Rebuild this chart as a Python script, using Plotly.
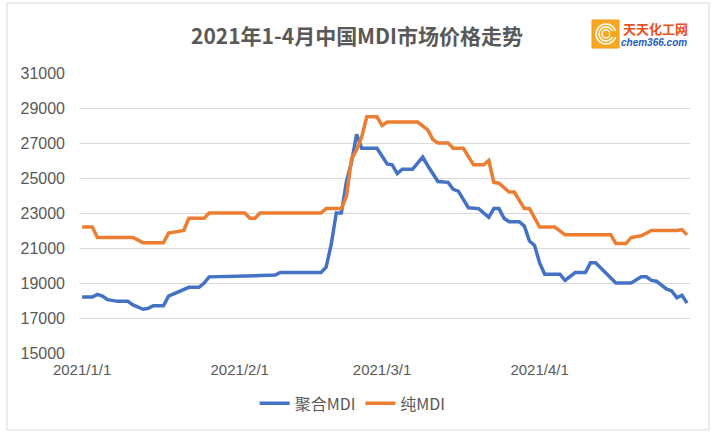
import plotly.graph_objects as go

# 聚合MDI (polymeric MDI) – vertices
poly_dates = ["2021-01-01", "2021-01-03", "2021-01-04", "2021-01-05", "2021-01-06", "2021-01-08",
              "2021-01-10", "2021-01-11", "2021-01-13", "2021-01-14", "2021-01-15", "2021-01-17",
              "2021-01-18", "2021-01-20", "2021-01-22", "2021-01-24", "2021-01-25", "2021-01-26",
              "2021-02-01", "2021-02-08", "2021-02-09", "2021-02-17", "2021-02-18", "2021-02-19",
              "2021-02-20", "2021-02-21", "2021-02-22", "2021-02-23", "2021-02-24", "2021-02-25",
              "2021-02-28", "2021-03-02", "2021-03-03", "2021-03-04", "2021-03-05", "2021-03-07",
              "2021-03-09", "2021-03-10", "2021-03-12", "2021-03-14", "2021-03-15", "2021-03-16",
              "2021-03-18", "2021-03-20", "2021-03-22", "2021-03-23", "2021-03-24", "2021-03-25",
              "2021-03-26", "2021-03-28", "2021-03-29", "2021-03-30", "2021-03-31", "2021-04-01",
              "2021-04-02", "2021-04-05", "2021-04-06", "2021-04-07", "2021-04-08", "2021-04-10",
              "2021-04-11", "2021-04-12", "2021-04-16", "2021-04-19", "2021-04-21", "2021-04-22",
              "2021-04-23", "2021-04-24", "2021-04-26", "2021-04-27", "2021-04-28", "2021-04-29",
              "2021-04-30"]
poly_values = [18200, 18200, 18350, 18250, 18050, 17950,
               17950, 17750, 17500, 17550, 17700, 17700,
               18250, 18500, 18750, 18750, 19000, 19350,
               19400, 19450, 19600, 19600, 19900, 21200,
               23000, 23000, 24800, 25900, 27500, 26700,
               26700, 25800, 25750, 25250, 25500, 25500,
               26200, 25700, 24800, 24750, 24350, 24250,
               23300, 23250, 22750, 23250, 23250, 22700,
               22500, 22500, 22250, 21400, 21150, 20150,
               19500, 19500, 19150, 19400, 19600, 19600,
               20150, 20150, 19000, 19000, 19350, 19350,
               19150, 19100, 18650, 18550, 18150, 18300,
               17850]

# 纯MDI (pure MDI)
pure_dates = ["2021-01-01", "2021-01-03", "2021-01-04", "2021-01-11", "2021-01-12", "2021-01-13",
              "2021-01-17", "2021-01-18", "2021-01-20", "2021-01-21", "2021-01-22", "2021-01-25",
              "2021-01-26", "2021-02-02", "2021-02-03", "2021-02-04", "2021-02-05", "2021-02-17",
              "2021-02-18", "2021-02-21", "2021-02-22", "2021-02-23", "2021-02-24", "2021-02-25",
              "2021-02-26", "2021-02-28", "2021-03-01", "2021-03-02", "2021-03-08", "2021-03-10",
              "2021-03-11", "2021-03-12", "2021-03-14", "2021-03-15", "2021-03-17", "2021-03-19",
              "2021-03-21", "2021-03-22", "2021-03-23", "2021-03-24", "2021-03-26", "2021-03-27",
              "2021-03-29", "2021-03-30", "2021-04-01", "2021-04-04", "2021-04-06", "2021-04-15",
              "2021-04-16", "2021-04-18", "2021-04-19", "2021-04-21", "2021-04-23", "2021-04-28",
              "2021-04-29", "2021-04-30"]
pure_values = [22200, 22200, 21600, 21600, 21450, 21300,
               21300, 21850, 21950, 22000, 22700, 22700,
               23000, 23000, 22700, 22700, 23000, 23000,
               23250, 23250, 23950, 26100, 26600, 27350,
               28500, 28500, 28000, 28200, 28200, 27750,
               27200, 27000, 27000, 26700, 26700, 25750,
               25750, 26000, 24750, 24700, 24200, 24200,
               23250, 23250, 22200, 22200, 21750, 21750,
               21250, 21250, 21600, 21700, 22000, 22000,
               22050, 21750]

series_names = ["聚合MDI", "纯MDI"]
series_colors = ["#4472C4", "#ED7D31"]

tick_dates = ["2021-01-01", "2021-02-01", "2021-03-01", "2021-04-01"]
tick_labels = ["2021/1/1", "2021/2/1", "2021/3/1", "2021/4/1"]
y_ticks = [15000, 17000, 19000, 21000, 23000, 25000, 27000, 29000, 31000]
y_tick_labels = [str(v) for v in y_ticks]

title_text = "2021年1-4月中国MDI市场价格走势"

# plot-area geometry in pixels (used only to place decorations)
PL, PR, PT, PB = 80, 690, 73, 353


def px(x):
    return (x - PL) / (PR - PL)


def py(y):
    return (PB - y) / (PB - PT)


fig = go.Figure()
fig.add_trace(go.Scatter(x=poly_dates, y=poly_values, mode="lines", name=series_names[0],
                         line=dict(color=series_colors[0], width=3.5)))
fig.add_trace(go.Scatter(x=pure_dates, y=pure_values, mode="lines", name=series_names[1],
                         line=dict(color=series_colors[1], width=3.5)))

fig.update_layout(
    width=716, height=433,
    margin=dict(l=PL, r=716 - PR, t=PT, b=433 - PB, autoexpand=False),
    paper_bgcolor="white", plot_bgcolor="white",
    title=dict(text="<b>" + title_text + "</b>", x=357 / 716, xref="container", xanchor="center",
               y=1 - 37 / 433, yref="container", yanchor="middle",
               font=dict(family="Noto Sans CJK SC", size=21, color="#595959")),
    xaxis=dict(type="date", range=["2020-12-31 14:00", "2021-04-30 14:00"],
               tickvals=tick_dates, ticktext=tick_labels, showgrid=False, zeroline=False,
               showline=False, ticks="", automargin=False, ticklabelstandoff=6,
               tickfont=dict(family="Liberation Sans", size=15, color="#595959")),
    yaxis=dict(range=[15000, 31000], tickvals=y_ticks, ticktext=y_tick_labels,
               showgrid=True, gridcolor="#D9D9D9",
               gridwidth=1, zeroline=False, showline=False, ticks="", ticklabelstandoff=14,
               automargin=False,
               tickfont=dict(family="Liberation Sans", size=16, color="#595959")),
    legend=dict(orientation="h", x=0.447, xanchor="center", y=-0.18, yanchor="middle",
                font=dict(family="Noto Sans CJK SC", size=16, color="#595959"),
                bgcolor="rgba(0,0,0,0)"),
    showlegend=True,
)

# chart border
fig.add_shape(type="rect", xref="paper", yref="paper", x0=px(7), x1=px(709),
              y0=py(430), y1=py(3), line=dict(color="#D9D9D9", width=1), layer="below")

# logo (天天化工网)
fig.add_shape(type="rect", xref="paper", yref="paper",
              x0=px(592), x1=px(619), y0=py(48), y1=py(20),
              fillcolor="#F7A823", line=dict(color="#F29A1A", width=1))
for r in [10, 7, 4]:
    cx, cy = 606, 34
    fig.add_shape(type="circle", xref="paper", yref="paper",
                  x0=px(cx - r), x1=px(cx + r), y0=py(cy + r), y1=py(cy - r),
                  line=dict(color="white", width=1.5))
fig.add_shape(type="rect", xref="paper", yref="paper",
              x0=px(610), x1=px(618), y0=py(37), y1=py(31),
              fillcolor="#F7A823", line=dict(width=0))
fig.add_annotation(text="<b>天天化工网</b>", xref="paper", yref="paper",
                   x=px(655), y=py(29), xanchor="center", yanchor="middle",
                   showarrow=False, font=dict(family="Noto Sans CJK SC", size=13, color="#E8511E"))
fig.add_annotation(text="<b><i>chem366.com</i></b>", xref="paper", yref="paper",
                   x=px(654), y=py(43), xanchor="center", yanchor="middle",
                   showarrow=False, font=dict(family="Liberation Sans", size=10, color="#1E5BB8"))

fig.write_html("out.html", config={"displayModeBar": False},
               post_script="document.body.style.margin='0';")
